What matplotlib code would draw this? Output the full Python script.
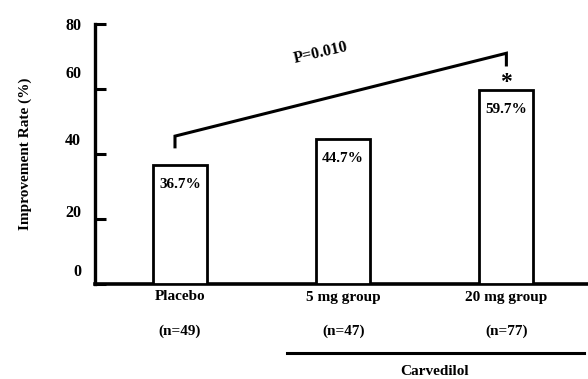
import matplotlib
matplotlib.use("Agg")
import matplotlib.pyplot as plt
from matplotlib.transforms import ScaledTranslation

groups = ["Placebo", "5 mg group", "20 mg group"]
n_labels = ["(n=49)", "(n=47)", "(n=77)"]
rates = [36.7, 44.7, 59.7]
value_labels = ["36.7%", "44.7%", "59.7%"]
yticks = [0, 20, 40, 60, 80]
p_text = "P=0.010"
group_label = "Carvedilol"

plt.rcParams['font.family'] = ['Liberation Serif', 'DejaVu Serif']
plt.rcParams['font.weight'] = 'bold'

fig = plt.figure(figsize=(5.88, 3.79), dpi=100)
ax = fig.add_axes([95/588, 95/379, 493/588, 260/379])

x = list(range(len(groups)))
ax.bar(x, rates, width=0.33, facecolor='white', edgecolor='black', linewidth=2.0, zorder=3)
for xi, v, lab in zip(x, rates, value_labels):
    ax.text(xi, v - 6.0, lab, ha='center', va='center', fontsize=11, fontweight='bold')

ax.set_xlim(-0.52, 2.5)
ax.set_ylim(0, 80)
ax.spines['top'].set_visible(False)
ax.spines['right'].set_visible(False)
ax.spines['left'].set_linewidth(2.4)
ax.spines['bottom'].set_linewidth(2.6)
ax.set_yticks(yticks)
ax.set_yticklabels([str(t) for t in yticks], fontsize=11.5, fontweight='bold')
ax.tick_params(axis='y', direction='in', length=8, width=2.2, pad=10)
ax.set_xticks([])
ax.set_ylabel("Improvement Rate (%)", fontsize=11, fontweight='bold', labelpad=24)

# scanned-chart label offsets (points, upward)
offsets = [10, 6, 11, 12, 0]
for lbl, off in zip(ax.get_yticklabels(), offsets):
    lbl.set_transform(lbl.get_transform() + ScaledTranslation(0, off / 72, fig.dpi_scale_trans))

# bracket
bx0, bx1 = -0.03, 2.0
ax.plot([bx0, bx0, bx1, bx1], [42.2, 45.5, 71.0, 67.4], color='black', lw=2.2,
        solid_joinstyle='miter', clip_on=False)
ax.text(0.86, 71.2, p_text, rotation=13, ha='center', va='center', fontsize=11.5, fontweight='bold')
ax.text(2.0, 62.0, "*", ha='center', va='center', fontsize=17, fontweight='bold')

# x labels
for xi, g, nl in zip(x, groups, n_labels):
    ax.text(xi, -4.0, g, ha='center', va='center', fontsize=11, fontweight='bold')
    ax.text(xi, -14.5, nl, ha='center', va='center', fontsize=11, fontweight='bold')

ax.plot([0.654, 2.477], [-21.2, -21.2], color='black', lw=2.2, clip_on=False)
ax.text(1.56, -27.0, group_label, ha='center', va='center', fontsize=11, fontweight='bold')

fig.savefig("out.png", dpi=100)
